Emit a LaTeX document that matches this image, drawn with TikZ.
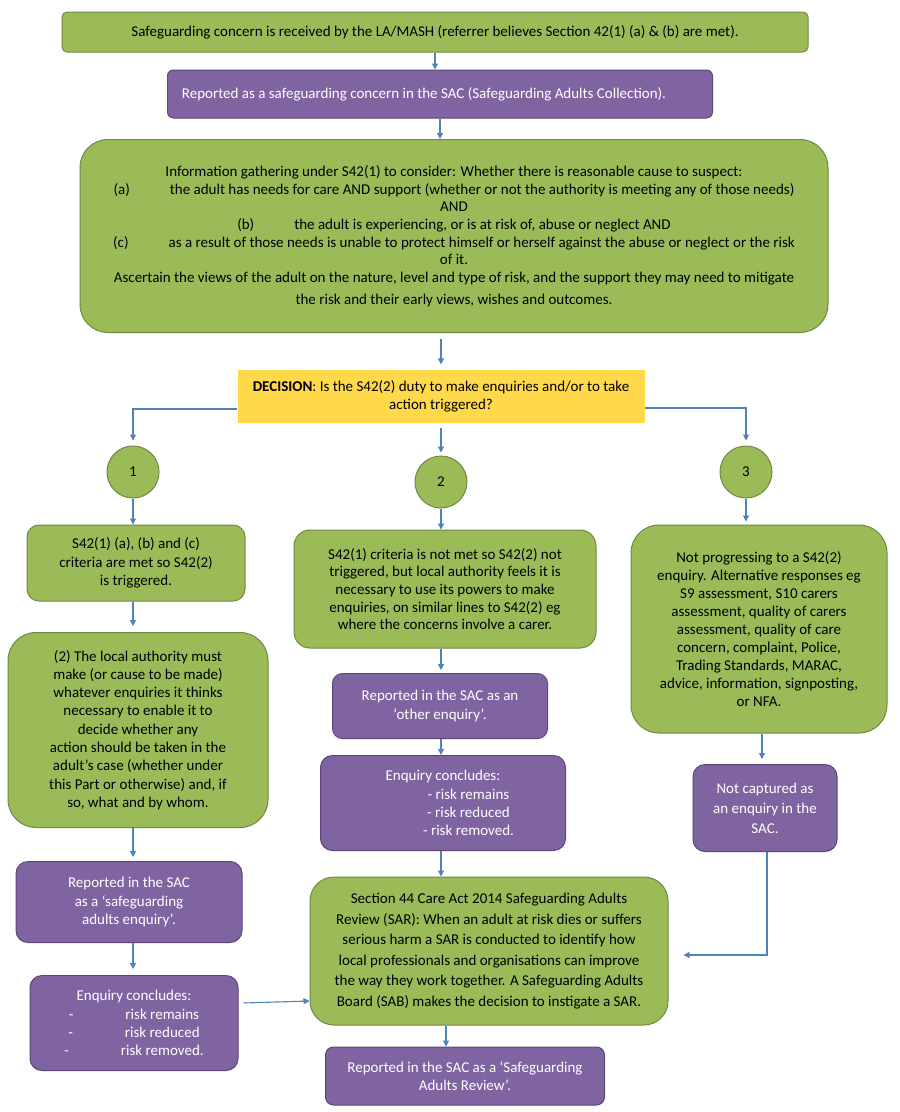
\documentclass[tikz,border=0pt]{standalone}
\usepackage{fontspec}
\setmainfont{Carlito}
\usepackage{tikz}
\usetikzlibrary{positioning}
\usetikzlibrary{arrows.meta}
\definecolor{boxgreen}{HTML}{9BBB59}
\definecolor{greenline}{HTML}{71893F}
\definecolor{boxpurple}{HTML}{8064A2}
\definecolor{purpleline}{HTML}{5C4776}
\definecolor{decyellow}{HTML}{FFD94A}
\definecolor{flowblue}{HTML}{4F81BD}
\tikzset{
  greenbox/.style={draw=greenline, fill=boxgreen, line width=1pt, align=center,
    inner sep=0pt, text=black, font=\fontsize{15}{18.3}\selectfont},
  purplebox/.style={draw=purpleline, fill=boxpurple, line width=1pt, align=center,
    inner sep=0pt, text=white, font=\fontsize{15}{18.3}\selectfont},
  numcircle/.style={circle, draw=greenline, fill=boxgreen, line width=1pt,
    minimum size=52pt, inner sep=0pt, font=\fontsize{15}{18}\selectfont},
  flow/.style={draw=flowblue, line width=1.1pt, -{Triangle[length=6pt,width=6pt]}}
}

\begin{document}
\begin{tikzpicture}[x=1pt,y=-1pt]
\useasboundingbox[fill=white] (0,0) rectangle (900,1112);

% top of the flow
\node[greenbox, rounded corners=5pt, minimum width=746pt, minimum height=40pt] (concern) at (435,32)
  {Safeguarding concern is received by the LA/MASH (referrer believes Section 42(1) (a) \& (b) are met).};
\node[purplebox, rounded corners=6pt, minimum width=545pt, minimum height=48pt] (sac) at (440,94)
  {Reported as a safeguarding concern in the SAC (Safeguarding Adults Collection).\hspace*{32pt}};
\node[greenbox, rounded corners=28pt, minimum width=748pt, minimum height=193pt,
  font=\fontsize{15}{17.7}\selectfont] (info) at (454,236)
  {Information gathering under S42(1) to consider: Whether there is reasonable cause to suspect:\\
   (a)\hspace{40pt}the adult has needs for care AND support (whether or not the authority is meeting any of those needs)\\
   AND\\
   (b)\hspace{40pt}the adult is experiencing, or is at risk of, abuse or neglect AND\\
   (c)\hspace{40pt}as a result of those needs is unable to protect himself or herself against the abuse or neglect or the risk\\
   of it.\\
   Ascertain the views of the adult on the nature, level and type of risk, and the support they may need to mitigate\\[4pt]
   the risk and their early views, wishes and outcomes.};
\node[fill=decyellow, align=center, inner sep=0pt, minimum width=407pt, minimum height=53pt,
  font=\fontsize{15}{18.3}\selectfont] (decision) at (441,396)
  {\textbf{DECISION}: Is the S42(2) duty to make enquiries and/or to take\\action triggered?};

% the three routes
\node[numcircle] (one) at (133,472) {1};
\node[numcircle] (two) at (441,482) {2};
\node[numcircle] (three) at (746,472) {3};

% route 1
\node[greenbox, rounded corners=12pt, minimum width=218pt, minimum height=76pt] (met) at (136,563)
  {S42(1) (a), (b) and (c)\\criteria are met so S42(2)\\is triggered.};
\node[greenbox, rounded corners=28pt, minimum width=260pt, minimum height=195pt] (duty) at (138,730)
  {(2) The local authority must\\
   make (or cause to be made)\\
   whatever enquiries it thinks\\
   necessary to enable it to\hspace*{22pt}\\
   decide whether any\hspace*{50pt}\\
   action should be taken in the\\
   adult’s case (whether under\\
   this Part or otherwise) and, if\\
   so, what and by whom.};
\node[purplebox, rounded corners=12pt, minimum width=226pt, minimum height=81pt] (sae) at (129,902)
  {Reported in the SAC\\as a ‘safeguarding\\adults enquiry’.};
\node[purplebox, rounded corners=12pt, minimum width=208pt, minimum height=95pt] (concl1) at (134,1023)
  {Enquiry concludes:\\
   -\hspace{52pt}risk remains\\
   -\hspace{52pt}risk reduced\\
   -\hspace{52pt}risk removed.};

% route 2
\node[greenbox, rounded corners=16pt, minimum width=302pt, minimum height=118pt,
  font=\fontsize{15}{17.7}\selectfont] (notmet) at (445,589)
  {S42(1) criteria is not met so S42(2) not\\
   triggered, but local authority feels it is\\
   necessary to use its powers to make\\
   enquiries, on similar lines to S42(2) eg\\
   where the concerns involve a carer.};
\node[purplebox, rounded corners=10pt, minimum width=215pt, minimum height=65pt] (other) at (440,706)
  {Reported in the SAC as an\\‘other enquiry’.};
\node[purplebox, rounded corners=12pt, minimum width=245pt, minimum height=95pt] (concl2) at (443,803)
  {Enquiry concludes:\\
   \hspace*{51pt}- risk remains\\
   \hspace*{51pt}- risk reduced\\
   \hspace*{51pt}- risk removed.};

% route 3
\node[greenbox, rounded corners=28pt, minimum width=256pt, minimum height=208pt,
  font=\fontsize{15}{18}\selectfont] (alt) at (759,629)
  {Not progressing to a S42(2)\\
   enquiry. Alternative responses eg\\
   S9 assessment, S10 carers\\
   assessment, quality of carers\\
   assessment, quality of care\\
   concern, complaint, Police,\\
   Trading Standards, MARAC,\\
   advice, information, signposting,\\
   or NFA.};
\node[purplebox, rounded corners=12pt, minimum width=144pt, minimum height=87pt,
  font=\fontsize{15}{20}\selectfont] (notcap) at (765,808)
  {Not captured as\\an enquiry in the\\SAC.};

% review
\node[greenbox, rounded corners=24pt, minimum width=358pt, minimum height=148pt,
  font=\fontsize{15}{20.5}\selectfont] (sar) at (489,951)
  {Section 44 Care Act 2014 Safeguarding Adults\\
   Review (SAR): When an adult at risk dies or suffers\\
   serious harm a SAR is conducted to identify how\\
   local professionals and organisations can improve\\
   the way they work together. A Safeguarding Adults\\
   Board (SAB) makes the decision to instigate a SAR.};
\node[purplebox, rounded corners=8pt, minimum width=279pt, minimum height=58pt] (sarrep) at (465,1076)
  {Reported in the SAC as a ‘Safeguarding\\Adults Review’.};

% connectors
\draw[flow] (concern.south) -- (concern.south |- sac.north);
\draw[flow] (sac.south) -- (sac.south |- info.north);
\draw[flow] ([yshift=-6pt]info.south -| decision.north) -- ([yshift=5pt]decision.north);
\draw[flow] ([yshift=-13pt]decision.west) -| ([yshift=5pt]one.north);
\draw[flow] ([yshift=-5pt]decision.south) -- ([yshift=3pt]two.north);
\draw[flow] ([yshift=-12pt]decision.east) -| ([yshift=5pt]three.north);
\draw[flow] (one.south) -- (one.south |- met.north);
\draw[flow] (met.south -| one) -- ([yshift=6pt]duty.north -| one);
\draw[flow] (duty.south -| one) -- ([yshift=4pt]sae.north -| one);
\draw[flow] (sae.south -| one) -- ([yshift=6pt]concl1.north -| one);
\draw[flow] ([xshift=5pt,yshift=20pt]concl1.east) -- ([yshift=-50pt]sar.west);
\draw[flow] (two.south) -- (two.south |- notmet.north);
\draw[flow] (notmet.south -| two) -- ([yshift=3pt]other.north -| two);
\draw[flow] (other.south -| two) -- (concl2.north -| two);
\draw[flow] (concl2.south -| two) -- (sar.north -| two);
\draw[flow] (three.south) -- ([yshift=3pt]alt.north -| three);
\draw[flow] ([xshift=16pt]alt.south -| three) -- ([xshift=16pt,yshift=5pt]notcap.north -| three);
\draw[flow] ([xshift=2pt]notcap.south) |- ([xshift=15pt,yshift=-4pt]sar.east);
\draw[flow] ([xshift=-43pt]sar.south) -- ([xshift=-19pt]sarrep.north);
\end{tikzpicture}
\end{document}
